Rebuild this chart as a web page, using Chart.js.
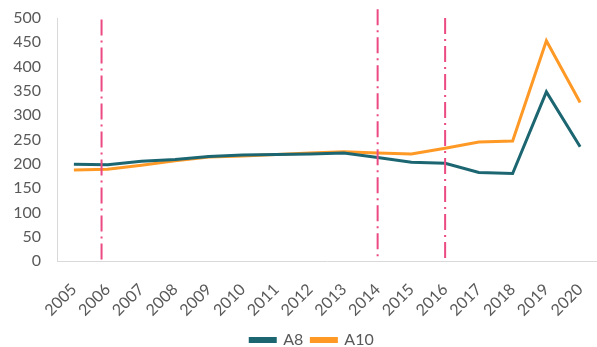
<!DOCTYPE html>
<html>
<head>
<meta charset="utf-8">
<script src="https://cdn.jsdelivr.net/npm/chart.js@4/dist/chart.umd.min.js"></script>
<style>
  html, body { margin: 0; padding: 0; background: #ffffff; }
  #wrap { width: 597px; height: 347px; }
</style>
</head>
<body>
<div id="wrap"><canvas id="chart" width="597" height="347"></canvas></div>
<script>
// Years on the category axis
const years = ['2005','2006','2007','2008','2009','2010','2011','2012','2013','2014','2015','2016','2017','2018','2019','2020'];

// Series values
const a8  = [199, 198, 205, 209, 215, 218, 219, 220, 222, 213, 203, 201, 182, 180, 348, 235];
const a10 = [187, 189, 197, 206, 214, 216, 219, 222, 225, 222, 220, 232, 245, 247, 453, 326];

// Value-axis ticks
const yTicks = [0, 50, 100, 150, 200, 250, 300, 350, 400, 450, 500];

// Vertical reference markers: position on the category axis (index units) and top value
const markerAt  = [0.82, 9, 11];
const markerTop = [497, 518, 500];

const textColor = '#595959';
const fontFamily = 'Lato, "Open Sans", sans-serif';

const markerPlugin = {
  id: 'markers',
  afterDatasetsDraw(chart) {
    const { ctx, scales: { x, y } } = chart;
    const step = x.getPixelForValue(1) - x.getPixelForValue(0);
    ctx.save();
    ctx.strokeStyle = '#EC4A82';
    ctx.lineWidth = 2;
    ctx.setLineDash([16, 5, 2, 5]);
    markerAt.forEach((pos, i) => {
      const px = x.getPixelForValue(0) + pos * step;
      ctx.beginPath();
      ctx.moveTo(px, y.getPixelForValue(markerTop[i]));
      ctx.lineTo(px, y.getPixelForValue(0));
      ctx.stroke();
    });
    ctx.restore();
  }
};

// Centre the legend under the plot rather than the whole canvas
const legendShift = {
  id: 'legendShift',
  beforeDraw(chart) {
    const lg = chart.legend;
    if (!lg) return;
    lg.left = 27;
    lg.right = chart.width;
  }
};

new Chart(document.getElementById('chart'), {
  type: 'line',
  data: {
    labels: years,
    datasets: [
      { label: 'A8', data: a8, borderColor: '#1C6672', backgroundColor: '#1C6672', borderWidth: 3, pointRadius: 0, tension: 0 },
      { label: 'A10', data: a10, borderColor: '#FF9926', backgroundColor: '#FF9926', borderWidth: 3, pointRadius: 0, tension: 0 }
    ]
  },
  options: {
    responsive: false,
    animation: false,
    layout: { padding: { top: 18, right: 0, left: 0, bottom: -11 } },
    scales: {
      x: {
        offset: true,
        afterFit(scale) { scale.height = 63; scale.paddingLeft = 0; scale.paddingRight = 0; },
        grid: { display: false, drawTicks: false },
        border: { color: '#D9D9D9', width: 1 },
        ticks: { color: textColor, font: { family: fontFamily, size: 16 }, maxRotation: 45, minRotation: 45, padding: 19, autoSkip: false }
      },
      y: {
        min: 0, max: 500,
        afterBuildTicks(scale) { scale.ticks = yTicks.map(v => ({ value: v })); },
        afterFit(scale) { scale.width = 57; scale.paddingTop = 0; scale.paddingBottom = 0; },
        grid: { display: false, drawTicks: false },
        border: { color: '#D9D9D9', width: 1 },
        ticks: { color: textColor, font: { family: fontFamily, size: 16 }, padding: 16 }
      }
    },
    plugins: {
      legend: {
        position: 'bottom',
        labels: { color: textColor, font: { family: fontFamily, size: 16, lineHeight: 1 }, boxWidth: 25, boxHeight: 3, padding: 8 }
      },
      tooltip: { enabled: false }
    }
  },
  plugins: [markerPlugin, legendShift]
});
</script>
</body>
</html>
